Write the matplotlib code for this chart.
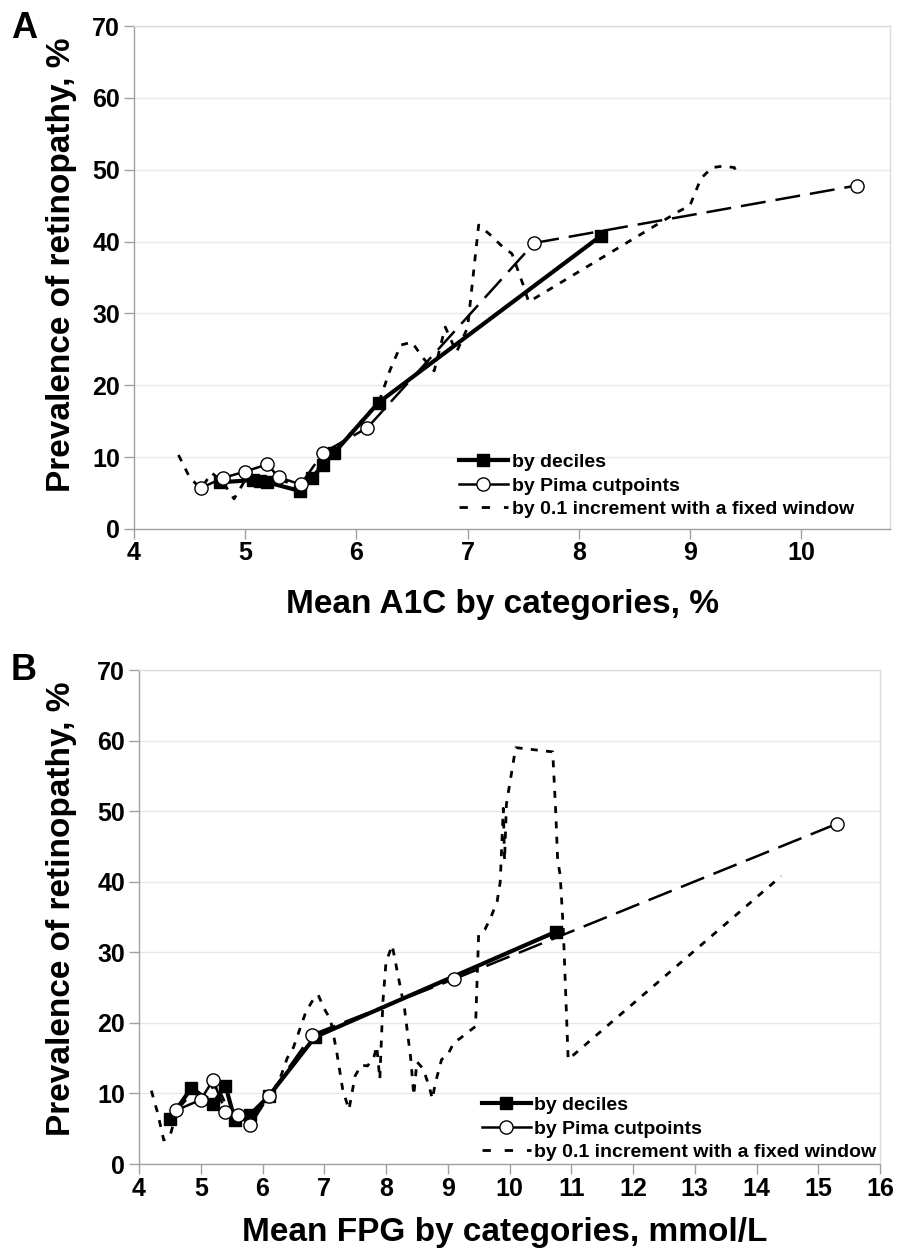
import matplotlib
matplotlib.use("Agg")
import matplotlib.pyplot as plt
from matplotlib.lines import Line2D

plt.rcParams['font.family'] = ['Liberation Sans', 'DejaVu Sans']
plt.rcParams['font.weight'] = 'bold'

# ---------------- Panel A data (A1C, %) ----------------
a_dec_x = [4.77, 5.07, 5.13, 5.2, 5.49, 5.6, 5.7, 5.8, 6.2, 8.2]
a_dec_y = [6.5, 6.8, 6.7, 6.5, 5.3, 7.1, 8.9, 10.6, 17.6, 40.8]

a_pima_x = [4.6, 4.8, 5.0, 5.2, 5.3, 5.5, 5.7, 6.1, 7.6, 10.5]
a_pima_y = [5.7, 7.1, 8.0, 9.0, 7.2, 6.2, 10.6, 14.1, 39.8, 47.8]

a_win_x = [4.4, 4.5, 4.6, 4.7, 4.8, 4.9, 5.0, 5.1, 5.2, 5.3, 5.4, 5.5, 5.6,
           5.7, 5.8, 5.9, 6.0, 6.1, 6.2, 6.3, 6.4, 6.5, 6.6, 6.7, 6.8, 6.9,
           7.0, 7.1, 7.2, 7.3, 7.4, 7.5, 7.55, 8.9, 9.0, 9.1, 9.2, 9.3, 9.4, 9.43]
a_win_y = [10.3, 7.2, 5.6, 7.8, 6.5, 4.2, 6.8, 6.8, 6.6, 6.9, 6.4, 5.8, 7.2,
           9.5, 11.0, 12.5, 14.2, 16.0, 17.5, 22.0, 25.6, 26.0, 23.8, 22.0, 28.1, 24.6,
           28.0, 42.3, 41.0, 39.5, 38.3, 34.0, 31.6, 44.2, 45.0, 48.8, 50.3, 50.5, 50.3, 49.2]

# ---------------- Panel B data (FPG, mmol/L) ----------------
b_dec_x = [4.5, 4.85, 5.2, 5.4, 5.55, 5.8, 6.1, 6.85, 10.75]
b_dec_y = [6.4, 10.8, 8.5, 11.1, 6.3, 7.0, 9.6, 18.0, 32.9]

b_pima_x = [4.6, 5.0, 5.2, 5.4, 5.6, 5.8, 6.1, 6.8, 9.1, 15.3]
b_pima_y = [7.6, 9.1, 11.9, 7.4, 7.0, 5.5, 9.6, 18.3, 26.2, 48.2]

b_win_x = [4.2, 4.3, 4.4, 4.5, 4.6, 4.7, 4.8, 4.9, 5.0, 5.1, 5.2, 5.3, 5.4,
           5.5, 5.6, 5.7, 5.8, 5.9, 6.0, 6.1, 6.2, 6.3, 6.4, 6.5, 6.6, 6.7,
           6.8, 6.9, 7.0, 7.1, 7.2, 7.3, 7.4, 7.5, 7.6, 7.7, 7.8, 7.85, 7.9,
           7.95, 8.0, 8.1, 8.2, 8.3, 8.4, 8.45, 8.5, 8.6, 8.7, 8.75, 8.8, 8.9,
           9.0, 9.1, 9.2, 9.3, 9.45, 9.5, 9.6, 9.7, 9.8, 9.85, 9.9, 9.92, 9.95,
           10.1, 10.7, 10.75, 10.78, 10.82, 10.87, 10.95, 14.4]
b_win_y = [10.4, 7.3, 3.4, 3.9, 7.0, 8.5, 9.5, 10.2, 9.0, 9.5, 11.0, 10.5, 8.5,
           7.0, 6.8, 6.5, 7.2, 7.5, 8.5, 9.5, 10.8, 12.5, 15.0, 16.5, 19.0, 21.5,
           23.0, 24.0, 22.0, 20.5, 16.0, 10.5, 7.7, 12.5, 14.0, 13.9, 15.0, 16.7, 12.0,
           23.0, 28.6, 31.0, 26.5, 22.0, 15.0, 9.7, 14.5, 13.5, 11.0, 9.2, 11.5, 14.8,
           15.5, 17.2, 17.8, 18.5, 19.5, 32.5, 33.2, 35.0, 37.2, 40.0, 50.4, 43.0, 51.0,
           59.0, 58.4, 49.6, 43.0, 41.0, 33.5, 14.8, 40.8]

y_ticks = [0, 10, 20, 30, 40, 50, 60, 70]
a_x_ticks = [4, 5, 6, 7, 8, 9, 10]
b_x_ticks = [4, 5, 6, 7, 8, 9, 10, 11, 12, 13, 14, 15, 16]
legend_labels = ["by deciles", "by Pima cutpoints", "by 0.1 increment with a fixed window"]
ylabel_text = "Prevalence of retinopathy, %"
a_xlabel = "Mean A1C by categories, %"
b_xlabel = "Mean FPG by categories, mmol/L"

W, H = 907, 1254
fig = plt.figure(figsize=(W / 100, H / 100), dpi=100)

WIN_STYLE = (0, (2.5, 3))
PIMA_STYLE = (0, (10, 4))
PIMA_LW = 1.8
DEC_LW = 3.0
WIN_LW = 2.0


def fx(px):
    return px / W


def fy(py):
    return 1 - py / H


def make_axes(l, r, t, b):
    return fig.add_axes([fx(l), fy(b), fx(r) - fx(l), fy(t) - fy(b)])


def style(ax, xlim, xticks):
    ax.set_xlim(*xlim)
    ax.set_ylim(0, 70)
    ax.set_xticks(xticks)
    ax.set_yticks(y_ticks)
    ax.grid(axis='y', color='#e8e8e8', linewidth=1.0)
    ax.set_axisbelow(True)
    for s in ['top', 'right']:
        ax.spines[s].set_color('#dcdcdc')
        ax.spines[s].set_linewidth(1.0)
    for s in ['left', 'bottom']:
        ax.spines[s].set_color('#a0a0a0')
        ax.spines[s].set_linewidth(1.0)
    ax.tick_params(axis='both', direction='out', color='#a0a0a0', length=7,
                   width=1.0, labelsize=18)
    ax.tick_params(axis='x', pad=2)
    ax.tick_params(axis='y', pad=3)
    for lab in ax.get_xticklabels() + ax.get_yticklabels():
        lab.set_fontweight('bold')


def draw(ax, dx, dy, px, py, wx, wy):
    ax.plot(wx, wy, color='black', linewidth=WIN_LW, linestyle=WIN_STYLE,
            zorder=2)
    ax.plot(dx, dy, color='black', linewidth=DEC_LW, marker='s', markersize=8.5,
            markerfacecolor='black', markeredgecolor='black', zorder=3)
    # Pima line: each segment restarts its dash pattern
    for i in range(len(px) - 1):
        ax.plot(px[i:i + 2], py[i:i + 2], color='black', linewidth=PIMA_LW,
                linestyle=PIMA_STYLE, zorder=4, solid_capstyle='butt',
                dash_capstyle='butt')
    ax.plot(px, py, linestyle='none', marker='o', markersize=9.5,
            markerfacecolor='white', markeredgecolor='black',
            markeredgewidth=1.0, zorder=5)


def legend(ax, loc_xy):
    handles = [
        Line2D([], [], color='black', linewidth=DEC_LW, marker='s', markersize=8.5),
        Line2D([], [], color='black', linewidth=PIMA_LW, marker='o', markersize=9.5,
               markerfacecolor='white', markeredgewidth=1.0),
        Line2D([], [], color='black', linewidth=WIN_LW, linestyle=(0, (3, 5))),
    ]
    leg = ax.legend(handles, legend_labels, loc='lower left',
                    bbox_to_anchor=loc_xy, bbox_transform=fig.transFigure,
                    frameon=False, handlelength=2.5, handletextpad=0.2,
                    labelspacing=0.3, borderpad=0, borderaxespad=0,
                    prop={'weight': 'bold', 'size': 14})
    leg.set_zorder(10)
    return leg


# Panel A
axA = make_axes(134, 890, 26, 529)
draw(axA, a_dec_x, a_dec_y, a_pima_x, a_pima_y, a_win_x, a_win_y)
style(axA, (4, 10.8), a_x_ticks)
legend(axA, (fx(459), fy(518)))
fig.text(fx(502), fy(605), a_xlabel, fontsize=24, fontweight='bold',
         ha='center', va='center')
fig.text(fx(62), fy(265), ylabel_text, fontsize=24, fontweight='bold',
         ha='center', va='center', rotation=90)
fig.text(fx(24), fy(29), "A", fontsize=26, fontweight='bold', va='center',
         ha='center')

# Panel B
axB = make_axes(139, 880, 670, 1164)
draw(axB, b_dec_x, b_dec_y, b_pima_x, b_pima_y, b_win_x, b_win_y)
style(axB, (4, 16), b_x_ticks)
legend(axB, (fx(482), fy(1161)))
fig.text(fx(505), fy(1232), b_xlabel, fontsize=24, fontweight='bold',
         ha='center', va='center')
fig.text(fx(62), fy(909), ylabel_text, fontsize=24, fontweight='bold',
         ha='center', va='center', rotation=90)
fig.text(fx(24), fy(670), "B", fontsize=26, fontweight='bold', va='center',
         ha='center')

fig.savefig("out.png", dpi=100)
